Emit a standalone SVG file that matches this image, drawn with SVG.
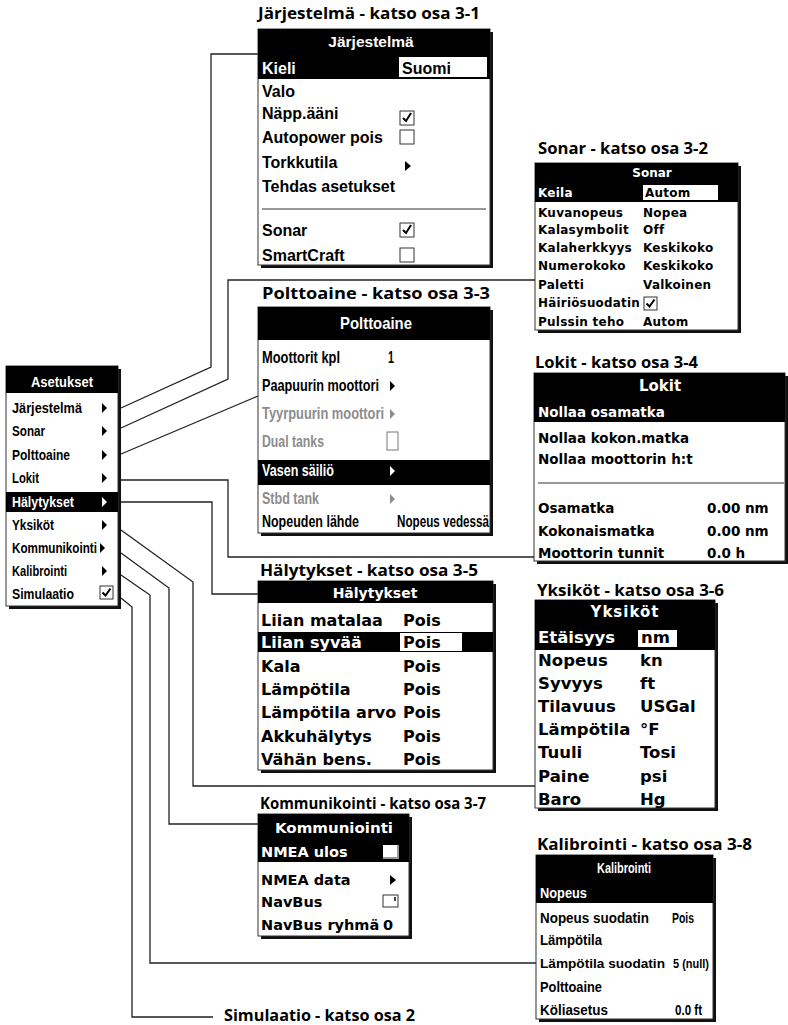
<svg xmlns="http://www.w3.org/2000/svg" width="788" height="1025" viewBox="0 0 788 1025">
<defs>
<style>
.bg{fill:#fff}
.sh{fill:#111}
.pn{fill:#fff;stroke:#333;stroke-width:1}
.hd{fill:#000}
.ttl{font-family:"Open Sans","Noto Sans",sans-serif;font-weight:bold;font-size:16px;fill:#000}
.h{font-family:"Liberation Sans",Arial,sans-serif;font-weight:bold;fill:#000}
.w{font-family:"DejaVu Sans",sans-serif;font-weight:bold;fill:#000}
.wt{fill:#fff}
.gr{fill:#8c8c8c}
.cb{fill:#fff;stroke:#333;stroke-width:1}
.ck{fill:none;stroke:#000;stroke-width:2}
.ar{fill:#000}
.con{fill:none;stroke:#222;stroke-width:1.3}
.sep{stroke:#333;stroke-width:1.2}
</style>
</defs>
<rect class="bg" x="0" y="0" width="788" height="1025"/>

<g id="connectors">
<path class="con" d="M121,408 L211,367 V54 H258"/>
<path class="con" d="M121,428 L228,379 V280 H535"/>
<path class="con" d="M121,454 L258,396"/>
<path class="con" d="M121,480 H228 V557 H534"/>
<path class="con" d="M121,502 H212 V594 H258"/>
<path class="con" d="M121,530 L193,582 V786 H535"/>
<path class="con" d="M121,553 L169,588 V824 H258"/>
<path class="con" d="M121,575 L150,595 V963 H536"/>
<path class="con" d="M121,598 L132,607 V1017 H213"/>
</g>

<g id="asetukset">
<rect class="sh" x="9" y="369" width="112" height="240"/>
<rect class="pn" x="6" y="366" width="112" height="240"/>
<rect class="hd" x="6" y="366" width="112" height="27"/>
<text class="h wt" x="62" y="387" font-size="15" text-anchor="middle" textLength="62" lengthAdjust="spacingAndGlyphs">Asetukset</text>
<rect class="hd" x="6" y="492" width="112" height="20"/>
<g font-size="15.5">
<text class="h" x="12" y="413" textLength="70" lengthAdjust="spacingAndGlyphs">Järjestelmä</text>
<text class="h" x="12" y="436" textLength="33" lengthAdjust="spacingAndGlyphs">Sonar</text>
<text class="h" x="12" y="460" textLength="58" lengthAdjust="spacingAndGlyphs">Polttoaine</text>
<text class="h" x="12" y="483" textLength="27" lengthAdjust="spacingAndGlyphs">Lokit</text>
<text class="h wt" x="12" y="507" textLength="62" lengthAdjust="spacingAndGlyphs">Hälytykset</text>
<text class="h" x="12" y="530" textLength="42" lengthAdjust="spacingAndGlyphs">Yksiköt</text>
<text class="h" x="12" y="553" textLength="85" lengthAdjust="spacingAndGlyphs">Kommunikointi</text>
<text class="h" x="12" y="576" textLength="55" lengthAdjust="spacingAndGlyphs">Kalibrointi</text>
<text class="h" x="12" y="599" textLength="62" lengthAdjust="spacingAndGlyphs">Simulaatio</text>
</g>
<path class="ar" d="M102,403 L107,408 L102,413 Z"/>
<path class="ar" d="M102,426 L107,431 L102,436 Z"/>
<path class="ar" d="M102,450 L107,455 L102,460 Z"/>
<path class="ar" d="M102,473 L107,478 L102,483 Z"/>
<path class="wt" d="M102,497 L107,502 L102,507 Z"/>
<path class="ar" d="M102,520 L107,525 L102,530 Z"/>
<path class="ar" d="M100,543 L105,548 L100,553 Z"/>
<path class="ar" d="M102,566 L107,571 L102,576 Z"/>
<rect class="cb" x="100" y="586" width="13" height="13"/>
<path class="ck" d="M102.5,592.5 L105.5,595.5 L110.5,588.5"/>
</g>

<g id="jarjestelma">
<text class="ttl" x="258" y="19" textLength="222" lengthAdjust="spacingAndGlyphs">Järjestelmä - katso osa 3-1</text>
<rect class="sh" x="261" y="32" width="232" height="236"/>
<rect class="pn" x="258" y="29" width="232" height="236"/>
<rect class="hd" x="258" y="29" width="232" height="25"/>
<text class="h wt" x="371" y="47" font-size="15.5" text-anchor="middle">Järjestelmä</text>
<rect class="hd" x="258" y="54" width="232" height="25"/>
<rect x="399" y="57" width="88" height="20" fill="#fff"/>
<g font-size="16">
<text class="h wt" x="262" y="74">Kieli</text>
<text class="h" x="402" y="74">Suomi</text>
<text class="h" x="262" y="97">Valo</text>
<text class="h" x="262" y="119">Näpp.ääni</text>
<text class="h" x="262" y="143">Autopower pois</text>
<text class="h" x="262" y="168">Torkkutila</text>
<text class="h" x="262" y="192">Tehdas asetukset</text>
<text class="h" x="262" y="236">Sonar</text>
<text class="h" x="262" y="261">SmartCraft</text>
</g>
<rect class="cb" x="400" y="111" width="14" height="14"/>
<path class="ck" d="M403,118 L406,121 L411,113"/>
<rect class="cb" x="400" y="130" width="14" height="14"/>
<path class="ar" d="M405,161 L411,166 L405,171 Z"/>
<line class="sep" x1="262" y1="209" x2="486" y2="209"/>
<rect class="cb" x="400" y="223" width="14" height="14"/>
<path class="ck" d="M403,230 L406,233 L411,225"/>
<rect class="cb" x="400" y="248" width="14" height="14"/>
</g>

<g id="sonar">
<text class="ttl" x="538" y="154" textLength="170" lengthAdjust="spacingAndGlyphs">Sonar - katso osa 3-2</text>
<rect class="sh" x="538" y="166" width="203" height="167"/>
<rect class="pn" x="535" y="163" width="203" height="167"/>
<rect class="hd" x="535" y="163" width="203" height="20"/>
<text class="w wt" x="652" y="177" font-size="12" text-anchor="middle">Sonar</text>
<rect class="hd" x="535" y="183" width="203" height="19"/>
<rect x="643" y="185" width="75" height="15" fill="#fff"/>
<g font-size="12" letter-spacing="0.25">
<text class="w wt" x="538" y="197">Keila</text>
<text class="w" x="645" y="197">Autom</text>
<text class="w" x="538" y="217">Kuvanopeus</text>
<text class="w" x="643" y="217">Nopea</text>
<text class="w" x="538" y="234">Kalasymbolit</text>
<text class="w" x="643" y="234">Off</text>
<text class="w" x="538" y="252">Kalaherkkyys</text>
<text class="w" x="643" y="252">Keskikoko</text>
<text class="w" x="538" y="270">Numerokoko</text>
<text class="w" x="643" y="270">Keskikoko</text>
<text class="w" x="538" y="289">Paletti</text>
<text class="w" x="643" y="289">Valkoinen</text>
<text class="w" x="538" y="307" textLength="102" lengthAdjust="spacingAndGlyphs">Häiriösuodatin</text>
<text class="w" x="538" y="326">Pulssin teho</text>
<text class="w" x="643" y="326">Autom</text>
</g>
<rect class="cb" x="644" y="297" width="13" height="13"/>
<path class="ck" d="M646.5,303.5 L649.5,306.5 L654.5,299.5"/>
</g>

<g id="polttoaine">
<text class="ttl" x="262" y="299" textLength="228" lengthAdjust="spacingAndGlyphs">Polttoaine - katso osa 3-3</text>
<rect class="sh" x="261" y="310" width="232" height="226"/>
<rect class="pn" x="258" y="307" width="232" height="226"/>
<rect class="hd" x="258" y="307" width="232" height="33"/>
<text class="h wt" x="376" y="329" font-size="16.5" text-anchor="middle" textLength="72" lengthAdjust="spacingAndGlyphs">Polttoaine</text>
<rect class="hd" x="258" y="460" width="232" height="25"/>
<g font-size="16.5">
<text class="h" x="262" y="363" textLength="78" lengthAdjust="spacingAndGlyphs">Moottorit kpl</text>
<text class="h" x="388" y="363" textLength="6" lengthAdjust="spacingAndGlyphs">1</text>
<text class="h" x="262" y="391" textLength="117" lengthAdjust="spacingAndGlyphs">Paapuurin moottori</text>
<text class="h gr" x="262" y="419" textLength="122" lengthAdjust="spacingAndGlyphs">Tyyrpuurin moottori</text>
<text class="h gr" x="262" y="447" textLength="62" lengthAdjust="spacingAndGlyphs">Dual tanks</text>
<text class="h wt" x="262" y="476" textLength="72" lengthAdjust="spacingAndGlyphs">Vasen säiliö</text>
<text class="h gr" x="262" y="504" textLength="57" lengthAdjust="spacingAndGlyphs">Stbd tank</text>
<text class="h" x="262" y="527" textLength="97" lengthAdjust="spacingAndGlyphs">Nopeuden lähde</text>
<text class="h" x="397" y="527" textLength="92" lengthAdjust="spacingAndGlyphs">Nopeus vedessä</text>
</g>
<path class="ar" d="M390,381 L395,386 L390,391 Z"/>
<path class="gr" d="M390,409 L395,414 L390,419 Z"/>
<rect x="387" y="432" width="11" height="18" fill="#fff" stroke="#777" stroke-width="1"/>
<path class="wt" d="M390,466 L395,471 L390,476 Z"/>
<path class="gr" d="M390,494 L395,499 L390,504 Z"/>
</g>

<g id="lokit">
<text class="ttl" x="535" y="368" textLength="163" lengthAdjust="spacingAndGlyphs">Lokit - katso osa 3-4</text>
<rect class="sh" x="537" y="376" width="251" height="188"/>
<rect class="pn" x="534" y="373" width="251" height="188"/>
<rect class="hd" x="534" y="373" width="251" height="24"/>
<text class="w wt" x="660" y="391" font-size="15" text-anchor="middle">Lokit</text>
<rect class="hd" x="534" y="397" width="251" height="25"/>
<g font-size="13.5">
<text class="w wt" x="538" y="417">Nollaa osamatka</text>
<text class="w" x="538" y="443">Nollaa kokon.matka</text>
<text class="w" x="538" y="464">Nollaa moottorin h:t</text>
<text class="w" x="538" y="513">Osamatka</text>
<text class="w" x="707" y="513">0.00 nm</text>
<text class="w" x="538" y="536">Kokonaismatka</text>
<text class="w" x="707" y="536">0.00 nm</text>
<text class="w" x="538" y="558">Moottorin tunnit</text>
<text class="w" x="707" y="558">0.0 h</text>
</g>
<line class="sep" x1="538" y1="483" x2="784" y2="483"/>
</g>

<g id="halytykset">
<text class="ttl" x="260" y="576" textLength="218" lengthAdjust="spacingAndGlyphs">Hälytykset - katso osa 3-5</text>
<rect class="sh" x="261" y="584" width="235" height="189"/>
<rect class="pn" x="258" y="581" width="235" height="189"/>
<rect class="hd" x="258" y="581" width="235" height="22"/>
<text class="w wt" x="375" y="598" font-size="14" text-anchor="middle">Hälytykset</text>
<rect class="hd" x="258" y="632" width="235" height="20"/>
<rect x="400" y="633" width="62" height="18" fill="#fff"/>
<g font-size="16">
<text class="w" x="261" y="626">Liian matalaa</text>
<text class="w" x="403" y="626">Pois</text>
<text class="w wt" x="261" y="648">Liian syvää</text>
<text class="w" x="403" y="648">Pois</text>
<text class="w" x="261" y="672">Kala</text>
<text class="w" x="403" y="672">Pois</text>
<text class="w" x="261" y="695">Lämpötila</text>
<text class="w" x="403" y="695">Pois</text>
<text class="w" x="261" y="718">Lämpötila arvo</text>
<text class="w" x="403" y="718">Pois</text>
<text class="w" x="261" y="742">Akkuhälytys</text>
<text class="w" x="403" y="742">Pois</text>
<text class="w" x="261" y="765">Vähän bens.</text>
<text class="w" x="403" y="765">Pois</text>
</g>
</g>

<g id="yksikot">
<text class="ttl" x="537" y="596" textLength="187" lengthAdjust="spacingAndGlyphs">Yksiköt - katso osa 3-6</text>
<rect class="sh" x="538" y="603" width="180" height="208"/>
<rect class="pn" x="535" y="600" width="180" height="208"/>
<rect class="hd" x="535" y="600" width="180" height="23"/>
<text class="w wt" x="625" y="617" font-size="15" text-anchor="middle" letter-spacing="1">Yksiköt</text>
<rect class="hd" x="535" y="623" width="180" height="27"/>
<rect x="638" y="630" width="39" height="17" fill="#fff"/>
<g font-size="16.5">
<text class="w wt" x="538" y="643">Etäisyys</text>
<text class="w" x="641" y="643">nm</text>
<text class="w" x="538" y="666">Nopeus</text>
<text class="w" x="640" y="666">kn</text>
<text class="w" x="538" y="689">Syvyys</text>
<text class="w" x="640" y="689">ft</text>
<text class="w" x="538" y="712">Tilavuus</text>
<text class="w" x="640" y="712">USGal</text>
<text class="w" x="538" y="735">Lämpötila</text>
<text class="w" x="640" y="735">°F</text>
<text class="w" x="538" y="758">Tuuli</text>
<text class="w" x="640" y="758">Tosi</text>
<text class="w" x="538" y="782">Paine</text>
<text class="w" x="640" y="782">psi</text>
<text class="w" x="538" y="805">Baro</text>
<text class="w" x="640" y="805">Hg</text>
</g>
</g>

<g id="kommunikointi">
<text class="ttl" x="260" y="809" textLength="226" lengthAdjust="spacingAndGlyphs">Kommunikointi - katso osa 3-7</text>
<rect class="sh" x="261" y="817" width="151" height="122"/>
<rect class="pn" x="258" y="814" width="151" height="122"/>
<rect class="hd" x="258" y="814" width="151" height="26"/>
<text class="w wt" x="334" y="833" font-size="14.5" text-anchor="middle" textLength="118" lengthAdjust="spacingAndGlyphs">Kommuniointi</text>
<rect class="hd" x="258" y="840" width="151" height="22"/>
<g font-size="14.5">
<text class="w wt" x="261" y="857">NMEA ulos</text>
<text class="w" x="261" y="885">NMEA data</text>
<text class="w" x="261" y="907">NavBus</text>
<text class="w" x="261" y="930">NavBus ryhmä</text>
<text class="w" x="383" y="930">0</text>
</g>
<rect x="383" y="845" width="15" height="13" fill="#fff"/>
<path d="M398,845 V858 H383" fill="none" stroke="#999" stroke-width="2"/>
<path class="ar" d="M390,875 L396,880 L390,885 Z"/>
<rect class="cb" x="383" y="895" width="15" height="12"/>
<line x1="395" y1="897" x2="395" y2="901" stroke="#000" stroke-width="1.5"/>
</g>

<g id="kalibrointi">
<text class="ttl" x="537" y="850" textLength="215" lengthAdjust="spacingAndGlyphs">Kalibrointi - katso osa 3-8</text>
<rect class="sh" x="539" y="858" width="177" height="164"/>
<rect class="pn" x="536" y="855" width="177" height="164"/>
<rect class="hd" x="536" y="855" width="177" height="25"/>
<text class="h wt" x="624" y="873" font-size="14" text-anchor="middle" textLength="54" lengthAdjust="spacingAndGlyphs">Kalibrointi</text>
<rect class="hd" x="536" y="880" width="177" height="23"/>
<g font-size="14">
<text class="h wt" x="540" y="898" textLength="47" lengthAdjust="spacingAndGlyphs">Nopeus</text>
<text class="h" x="540" y="923" textLength="109" lengthAdjust="spacingAndGlyphs">Nopeus suodatin</text>
<text class="h" x="672" y="923" textLength="22" lengthAdjust="spacingAndGlyphs">Pois</text>
<text class="h" x="540" y="945" textLength="62" lengthAdjust="spacingAndGlyphs">Lämpötila</text>
<text class="h" x="540" y="968" font-size="13.5" textLength="125" lengthAdjust="spacingAndGlyphs">Lämpötila suodatin</text>
<text class="h" x="673" y="968" font-size="13" textLength="36" lengthAdjust="spacingAndGlyphs">5 (null)</text>
<text class="h" x="540" y="992" textLength="62" lengthAdjust="spacingAndGlyphs">Polttoaine</text>
<text class="h" x="540" y="1015" textLength="68" lengthAdjust="spacingAndGlyphs">Köliasetus</text>
<text class="h" x="675" y="1015" textLength="27" lengthAdjust="spacingAndGlyphs">0.0 ft</text>
</g>
</g>

<g id="simulaatio">
<text class="ttl" x="224" y="1021" textLength="191" lengthAdjust="spacingAndGlyphs">Simulaatio - katso osa 2</text>
</g>
</svg>
